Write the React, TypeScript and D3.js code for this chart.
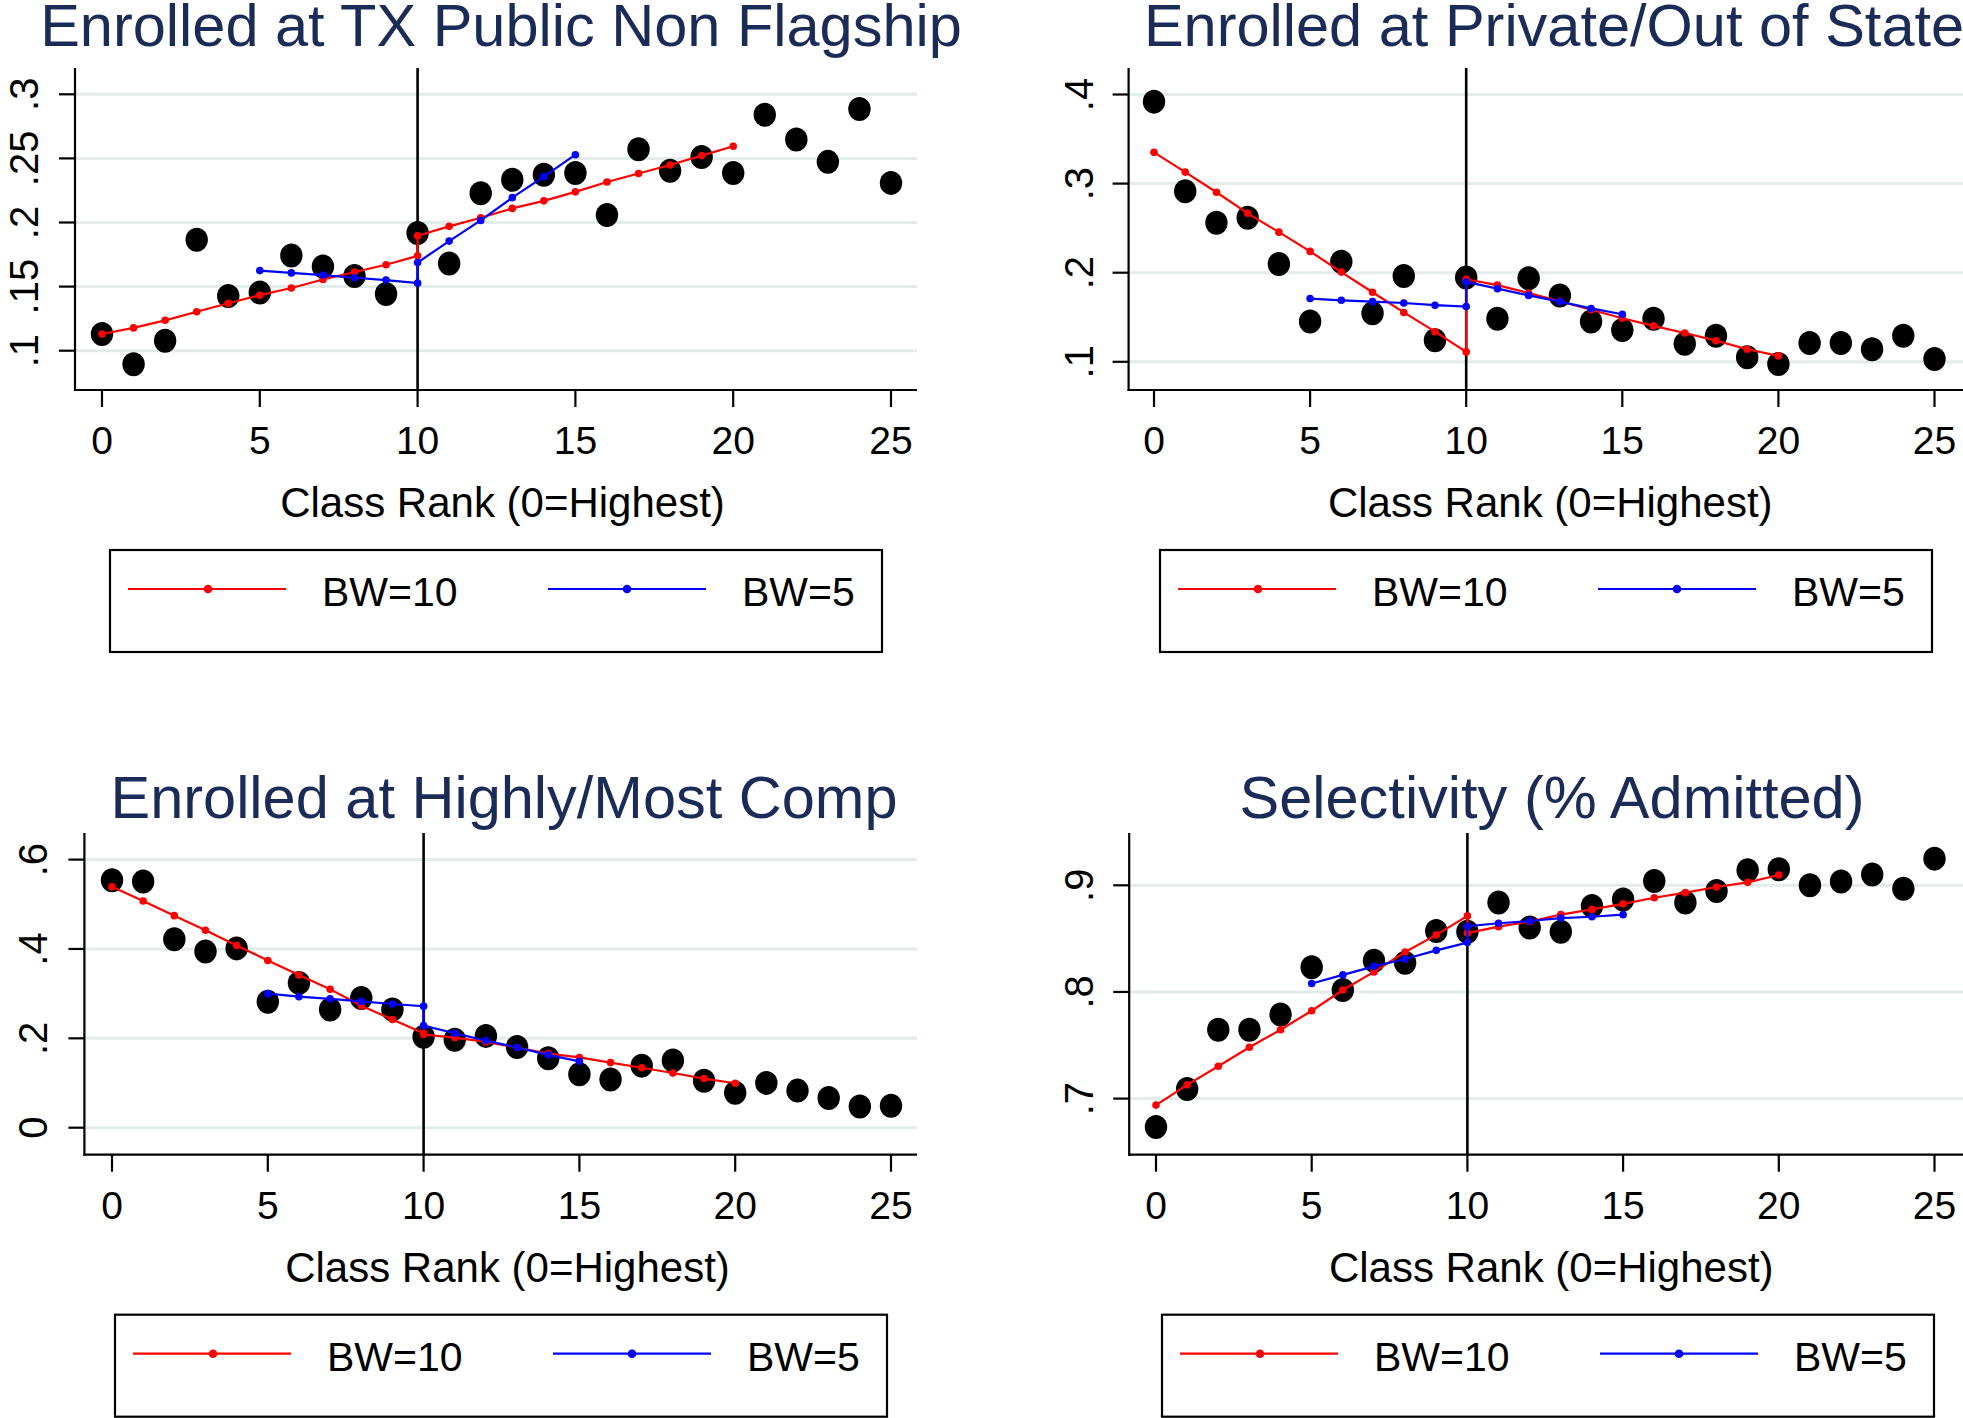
import React from "react";
import * as d3 from "d3";

// ---------- DATA ----------
const rankX = d3.range(0, 26); // 0..25 class rank bins
const redX = [0, 1, 2, 3, 4, 5, 6, 7, 8, 9, 10, 10, 11, 12, 13, 14, 15, 16, 17, 18, 19, 20];
const blueX = [5, 6, 7, 8, 9, 10, 10, 11, 12, 13, 14, 15];

const titles = [
  "Enrolled at TX Public Non Flagship",
  "Enrolled at Private/Out of State",
  "Enrolled at Highly/Most Comp",
  "Selectivity (% Admitted)",
];

const xTicks = [0, 5, 10, 15, 20, 25];
const xAxisTitle = "Class Rank (0=Highest)";
const legendLabels = ["BW=10", "BW=5"];

// Panel 1: TX public non flagship
const p1Dots = [0.113, 0.0895, 0.1077, 0.1866, 0.1426, 0.1454, 0.1743, 0.1656, 0.1583, 0.1443, 0.1918, 0.1681, 0.2229, 0.2333, 0.2372, 0.2386, 0.2058, 0.2571, 0.2403, 0.2511, 0.2386, 0.284, 0.2647, 0.2473, 0.2885, 0.2309];
const p1Red = [0.113, 0.1178, 0.1237, 0.1304, 0.137, 0.1433, 0.1489, 0.1555, 0.1614, 0.167, 0.174, 0.1897, 0.197, 0.2037, 0.211, 0.2169, 0.2239, 0.2316, 0.2382, 0.2449, 0.2522, 0.2595];
const p1Blue = [0.1625, 0.1607, 0.159, 0.1569, 0.1551, 0.1527, 0.1688, 0.1855, 0.2016, 0.2194, 0.2358, 0.2529];
const p1Ticks = [0.1, 0.15, 0.2, 0.25, 0.3];
const p1TickLabels = [".1", ".15", ".2", ".25", ".3"];

// Panel 2: private / out of state
const p2Dots = [0.392, 0.2913, 0.2561, 0.2616, 0.2098, 0.1453, 0.2123, 0.1544, 0.1962, 0.1242, 0.1947, 0.1484, 0.1937, 0.1745, 0.1453, 0.1358, 0.1484, 0.1202, 0.1292, 0.1051, 0.0975, 0.1212, 0.1212, 0.1141, 0.1292, 0.1031];
const p2Red = [0.3351, 0.3129, 0.2903, 0.2666, 0.2455, 0.2239, 0.2007, 0.1781, 0.1554, 0.1338, 0.1111, 0.1927, 0.1861, 0.1771, 0.168, 0.1584, 0.1489, 0.1403, 0.1323, 0.1237, 0.1141, 0.1066];
const p2Blue = [0.171, 0.169, 0.1675, 0.166, 0.1635, 0.162, 0.1896, 0.1821, 0.1745, 0.1675, 0.1599, 0.1534];
const p2Ticks = [0.1, 0.2, 0.3, 0.4];
const p2TickLabels = [".1", ".2", ".3", ".4"];

// Panel 3: highly / most competitive
const p3Dots = [0.5537, 0.5508, 0.4215, 0.3945, 0.4013, 0.2817, 0.3241, 0.2643, 0.2904, 0.2643, 0.2035, 0.1968, 0.2055, 0.1804, 0.1553, 0.1196, 0.1081, 0.1389, 0.1505, 0.1052, 0.0781, 0.1003, 0.083, 0.0666, 0.0473, 0.0492];
const p3Red = [0.5392, 0.5074, 0.4746, 0.4418, 0.408, 0.3743, 0.3415, 0.3097, 0.273, 0.2421, 0.2113, 0.2086, 0.2016, 0.192, 0.1794, 0.1659, 0.1572, 0.1457, 0.1341, 0.1225, 0.11, 0.0994];
const p3Blue = [0.3, 0.2933, 0.2884, 0.2826, 0.2769, 0.272, 0.2286, 0.2113, 0.1949, 0.1794, 0.163, 0.1486];
const p3Ticks = [0, 0.2, 0.4, 0.6];
const p3TickLabels = ["0", ".2", ".4", ".6"];

// Panel 4: selectivity
const p4Dots = [0.6733, 0.7089, 0.7646, 0.7646, 0.7788, 0.8232, 0.8018, 0.8293, 0.8273, 0.8572, 0.8564, 0.8838, 0.8604, 0.8564, 0.8806, 0.8867, 0.904, 0.8838, 0.8947, 0.9141, 0.915, 0.9, 0.9036, 0.9101, 0.8968, 0.925];
const p4Red = [0.6939, 0.7129, 0.7303, 0.7481, 0.7646, 0.7824, 0.8018, 0.8188, 0.8374, 0.8535, 0.8713, 0.8552, 0.8612, 0.8661, 0.8725, 0.8774, 0.8826, 0.8883, 0.8931, 0.8984, 0.9028, 0.9097];
const p4Blue = [0.8079, 0.816, 0.824, 0.8309, 0.839, 0.8463, 0.8616, 0.8644, 0.8665, 0.8693, 0.8705, 0.8725];
const p4Ticks = [0.7, 0.8, 0.9];
const p4TickLabels = [".7", ".8", ".9"];

const cutoff = 10;

// ---------- LAYOUT ----------
const W = 1963;
const H = 1418;
const FONT = "'Liberation Sans', Arial, Helvetica, sans-serif";
const TITLE_COLOR = "#1a2b58";
const GRID = "#e3ebeb";
const RED = "#ff0000";
const BLUE = "#0000ff";

type Panel = {
  title: string;
  dots: number[];
  red: number[];
  blue: number[];
  yTicks: number[];
  yLabels: string[];
  titleX: number;
  titleY: number;
  axisX: number;
  top: number;
  axisY: number;
  right: number;
  x0: number;
  x25: number;
  yDom: [number, number];
  yRng: [number, number];
  yLabelX: number;
  legendX: number;
};

const panels: Panel[] = [
  {
    title: titles[0], dots: p1Dots, red: p1Red, blue: p1Blue, yTicks: p1Ticks, yLabels: p1TickLabels,
    titleX: 501, titleY: 46, axisX: 75, top: 68, axisY: 390, right: 917, x0: 102, x25: 891,
    yDom: [0.1, 0.3], yRng: [350.7, 94.3], yLabelX: 38, legendX: 110,
  },
  {
    title: titles[1], dots: p2Dots, red: p2Red, blue: p2Blue, yTicks: p2Ticks, yLabels: p2TickLabels,
    titleX: 1554, titleY: 46, axisX: 1128.6, top: 68, axisY: 390, right: 1975, x0: 1154, x25: 1934.5,
    yDom: [0.1, 0.4], yRng: [361.8, 94.5], yLabelX: 1093, legendX: 1160,
  },
  {
    title: titles[2], dots: p3Dots, red: p3Red, blue: p3Blue, yTicks: p3Ticks, yLabels: p3TickLabels,
    titleX: 504, titleY: 818, axisX: 84.4, top: 833, axisY: 1154.7, right: 917, x0: 112, x25: 891,
    yDom: [0, 0.6], yRng: [1127.7, 859.6], yLabelX: 47, legendX: 115,
  },
  {
    title: titles[3], dots: p4Dots, red: p4Red, blue: p4Blue, yTicks: p4Ticks, yLabels: p4TickLabels,
    titleX: 1552, titleY: 818, axisX: 1129.2, top: 833, axisY: 1154.7, right: 1975, x0: 1156, x25: 1934.5,
    yDom: [0.7, 0.9], yRng: [1098.6, 885.3], yLabelX: 1093, legendX: 1162,
  },
];

function PanelView({ p }: { p: Panel }) {
  const x = d3.scaleLinear().domain([0, 25]).range([p.x0, p.x25]);
  const y = d3.scaleLinear().domain(p.yDom).range(p.yRng);
  const line = d3
    .line<[number, number]>()
    .x((d) => x(d[0]))
    .y((d) => y(d[1]));
  const redPts: [number, number][] = redX.map((xv, i) => [xv, p.red[i]]);
  const bluePts: [number, number][] = blueX.map((xv, i) => [xv, p.blue[i]]);
  const cx = (p.x0 + p.x25) / 2 + 6;
  const lgY = p.axisY + 160;
  const lx = p.legendX;

  return (
    <g>
      {/* title */}
      <text x={p.titleX} y={p.titleY} textAnchor="middle" fontSize={59.5} fill={TITLE_COLOR} fontFamily={FONT}>
        {p.title}
      </text>

      {/* gridlines */}
      {p.yTicks.map((t) => (
        <line key={"g" + t} x1={p.axisX + 1} x2={p.right} y1={y(t)} y2={y(t)} stroke={GRID} strokeWidth={3} />
      ))}

      {/* cutoff line */}
      <line x1={x(cutoff)} x2={x(cutoff)} y1={p.top} y2={p.axisY} stroke="#000" strokeWidth={2.6} />

      {/* axes */}
      <line x1={p.axisX} x2={p.axisX} y1={p.top} y2={p.axisY + 1} stroke="#000" strokeWidth={2.2} />
      <line x1={p.axisX - 1} x2={p.right} y1={p.axisY} y2={p.axisY} stroke="#000" strokeWidth={2.2} />

      {/* y ticks & labels */}
      {p.yTicks.map((t, i) => (
        <g key={"yt" + t}>
          <line x1={p.axisX - 16} x2={p.axisX} y1={y(t)} y2={y(t)} stroke="#000" strokeWidth={2.2} />
          <text
            transform={`translate(${p.yLabelX},${y(t)}) rotate(-90)`}
            textAnchor="middle"
            fontSize={40}
            fontFamily={FONT}
            fill="#000"
          >
            {p.yLabels[i]}
          </text>
        </g>
      ))}

      {/* x ticks & labels */}
      {xTicks.map((t) => (
        <g key={"xt" + t}>
          <line x1={x(t)} x2={x(t)} y1={p.axisY} y2={p.axisY + 17} stroke="#000" strokeWidth={2.2} />
          <text x={x(t)} y={p.axisY + 64} textAnchor="middle" fontSize={39} fontFamily={FONT} fill="#000">
            {t}
          </text>
        </g>
      ))}
      <text x={cx} y={p.axisY + 127} textAnchor="middle" fontSize={42} fontFamily={FONT} fill="#000">
        {xAxisTitle}
      </text>

      {/* scatter dots */}
      {p.dots.map((v, i) => (
        <ellipse key={"d" + i} cx={x(rankX[i])} cy={y(v)} rx={11.2} ry={12} fill="#000" />
      ))}

      {/* BW=10 fit */}
      <path d={line(redPts) || ""} fill="none" stroke={RED} strokeWidth={2.2} />
      {redPts.map((d, i) => (
        <circle key={"r" + i} cx={x(d[0])} cy={y(d[1])} r={3.8} fill={RED} />
      ))}

      {/* BW=5 fit */}
      <path d={line(bluePts) || ""} fill="none" stroke={BLUE} strokeWidth={2.2} />
      {bluePts.map((d, i) => (
        <circle key={"b" + i} cx={x(d[0])} cy={y(d[1])} r={3.8} fill={BLUE} />
      ))}

      {/* legend */}
      <rect x={lx} y={lgY} width={772} height={102} fill="none" stroke="#000" strokeWidth={2.2} />
      <line x1={lx + 18} x2={lx + 176} y1={lgY + 39} y2={lgY + 39} stroke={RED} strokeWidth={2.2} />
      <circle cx={lx + 98} cy={lgY + 39} r={4.3} fill={RED} />
      <text x={lx + 212} y={lgY + 56} fontSize={41} fontFamily={FONT} fill="#000">
        {legendLabels[0]}
      </text>
      <line x1={lx + 438} x2={lx + 596} y1={lgY + 39} y2={lgY + 39} stroke={BLUE} strokeWidth={2.2} />
      <circle cx={lx + 517} cy={lgY + 39} r={4.3} fill={BLUE} />
      <text x={lx + 632} y={lgY + 56} fontSize={41} fontFamily={FONT} fill="#000">
        {legendLabels[1]}
      </text>
    </g>
  );
}

export default function App() {
  return (
    <svg
      width={W}
      height={H}
      viewBox={`0 0 ${W} ${H}`}
      style={{ position: "absolute", left: 0, top: 0, background: "#fff", display: "block" }}
    >
      <rect x={0} y={0} width={W} height={H} fill="#fff" />
      {panels.map((p, i) => (
        <PanelView key={i} p={p} />
      ))}
    </svg>
  );
}
